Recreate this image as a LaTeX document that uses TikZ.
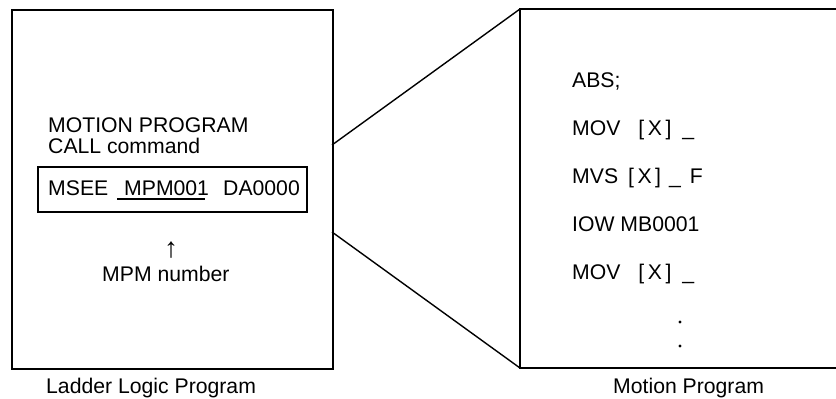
\documentclass[tikz,border=0pt]{standalone}
\usepackage{fontspec}
\setmainfont{Liberation Sans}
\begin{document}
\begin{tikzpicture}[x=1pt,y=-1pt,
  frame/.style={draw,line width=1.6pt,inner sep=0pt,anchor=north west},
  lbl/.style={inner sep=0pt,anchor=base west,font=\fontsize{21.2}{24}\selectfont},
  conn/.style={line width=1.4pt}]
\useasboundingbox (0,0) rectangle (836,399);
% left box
\node[frame,minimum width=321pt,minimum height=359pt] (ladder) at (11,9) {};
\node[frame,minimum width=269pt,minimum height=45pt] (call) at (37,166) {};
\node[lbl] (t1) at (48,132) {MOTION PROGRAM};
\node[lbl] (t2) at (48,153) {CALL command};
\node[lbl] (msee) at (48,195) {MSEE};
\node[lbl] (mpm) at (124,195) {MPM001};
\node[lbl] (da) at (223,195) {DA0000};
\coordinate (ul1) at (117,199);
\coordinate (ul2) at (205,199);
\draw[line width=1.1pt] (ul1) -- (ul2);
\node[inner sep=0pt,anchor=south,font=\fontsize{28}{30}\selectfont] (arr) at (171,259) {↑};
\node[lbl] (num) at (102,281) {MPM number};
\node[lbl] (ll) at (46,393) {Ladder Logic Program};
% right box
\coordinate (mtl) at (520,9);
\coordinate (mbl) at (520,368);
\coordinate (mtr) at (837,9);
\coordinate (mbr) at (837,368);
\draw[line width=1.6pt] (mtr) -- (mtl) -- (mbl) -- (mbr);
\coordinate (c1) at (332,145);
\coordinate (c2) at (332,232);
\draw[conn] (c1) -- (mtl);
\draw[conn] (c2) -- (mbl);
\node[lbl] (r1) at (572,87) {ABS;};
\node[lbl] (r2) at (572,135) {MOV\hspace{18pt}[\,X\,]\hspace{11pt}\_};
\node[lbl] (r3) at (572,183) {MVS\hspace{10pt}[\,X\,]\hspace{8pt}\_\hspace{9pt}F};
\node[lbl] (r4) at (572,231) {IOW MB0001};
\node[lbl] (r5) at (572,279) {MOV\hspace{18pt}[\,X\,]\hspace{11pt}\_};
\fill (680,322) circle (1.7pt);
\fill (680,346) circle (1.7pt);
\node[lbl] (mp) at (613,393) {Motion Program};
\end{tikzpicture}
\end{document}
